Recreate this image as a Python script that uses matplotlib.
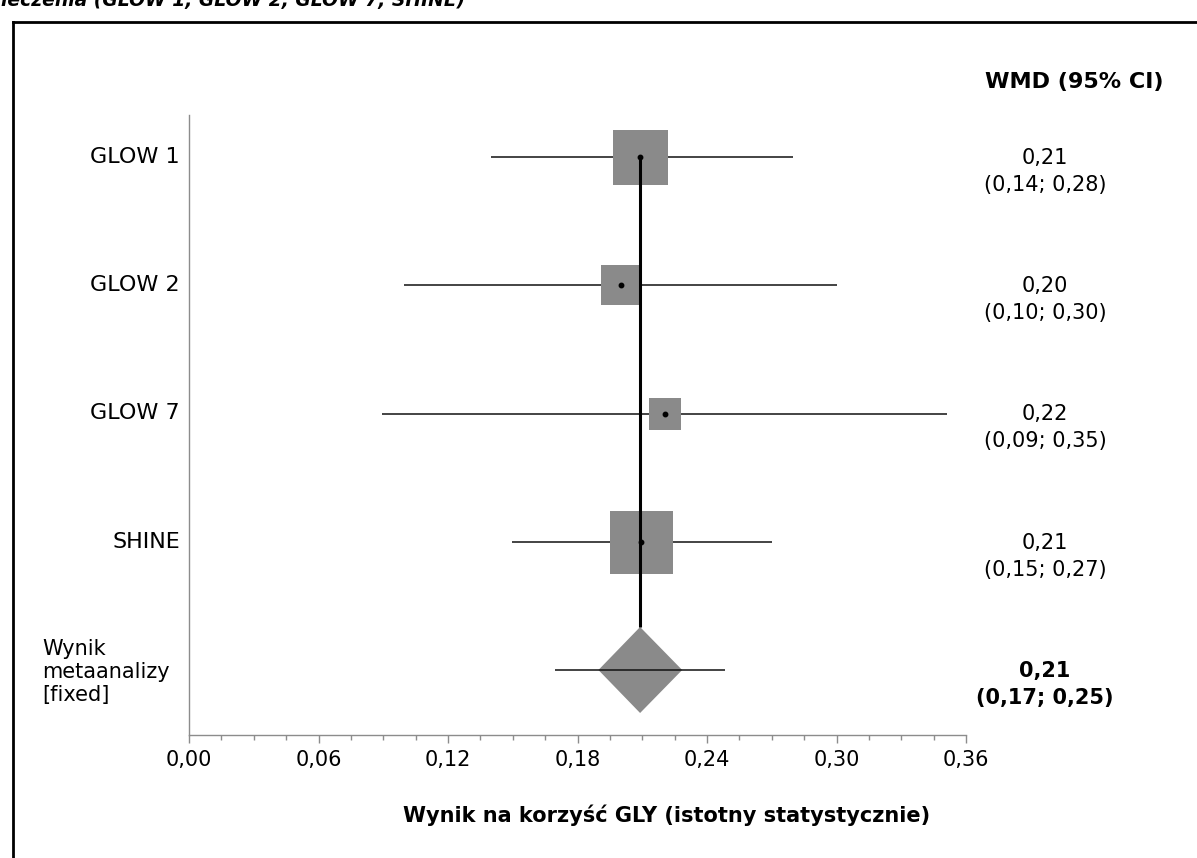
import matplotlib
matplotlib.use("Agg")
import matplotlib.pyplot as plt
from matplotlib.patches import Polygon
from matplotlib.lines import Line2D
from matplotlib.ticker import MultipleLocator, FuncFormatter

# ---- data ----
studies = ["GLOW 1", "GLOW 2", "GLOW 7", "SHINE"]
estimates = [0.209, 0.200, 0.2205, 0.2095]
ci_low = [0.140, 0.0995, 0.0895, 0.1495]
ci_high = [0.2798, 0.3002, 0.351, 0.270]
value_labels = ["0,21", "0,20", "0,22", "0,21"]
ci_labels = ["(0,14; 0,28)", "(0,10; 0,30)", "(0,09; 0,35)", "(0,15; 0,27)"]

meta_label = "Wynik\nmetaanalizy\n[fixed]"
meta_est = 0.209
meta_ci_low = 0.1697
meta_ci_high = 0.2483
meta_diamond_low = 0.1897
meta_diamond_high = 0.2285
meta_value_label = "0,21"
meta_ci_label = "(0,17; 0,25)"

x_ticks = [0.00, 0.06, 0.12, 0.18, 0.24, 0.30, 0.36]
x_label = "Wynik na korzyść GLY (istotny statystycznie)"
col_header = "WMD (95% CI)"
title_text = "leczenia (GLOW 1, GLOW 2, GLOW 7, SHINE)"

# ---- style ----
box_px = [55, 40, 32, 63]
box_color = "#8a8a8a"
FS = 15
W, H = 1197, 858
DPI = 100

fig = plt.figure(figsize=(W / DPI, H / DPI), dpi=DPI)
fig.patch.set_facecolor("white")

ax_left, ax_right, ax_top, ax_bottom = 189, 966, 115, 735
ax = fig.add_axes([ax_left / W, 1 - ax_bottom / H,
                   (ax_right - ax_left) / W, (ax_bottom - ax_top) / H])

row_px = [157, 285, 413, 542, 670]
unit = 128.25
y0 = -(row_px[0] - ax_top) / unit
y1 = (ax_bottom - row_px[0]) / unit
ax.set_ylim(y1, y0)
ax.set_xlim(x_ticks[0], x_ticks[-1])

rows = list(range(len(studies)))
meta_row = len(studies)

# CI lines
ax.hlines(rows, ci_low, ci_high, color="#111111", lw=1.1, zorder=2)
# boxes
for r, e, s in zip(rows, estimates, box_px):
    ax.plot([e], [r], marker="s", ms=s * 72 / DPI, mfc=box_color,
            mec=box_color, mew=0, ls="none", zorder=3)
# points
ax.plot(estimates, rows, "o", color="black", ms=3.2, zorder=5)

# diamond
half_h = 43 / unit
diamond = Polygon([(meta_diamond_low, meta_row), (meta_est, meta_row - half_h),
                   (meta_diamond_high, meta_row), (meta_est, meta_row + half_h)],
                  closed=True, facecolor=box_color, edgecolor="none", zorder=3)
ax.add_patch(diamond)
ax.hlines([meta_row], [meta_ci_low], [meta_ci_high], color="#111111", lw=1.1, zorder=4)

# vertical line at pooled estimate
ax.vlines([meta_est], rows[0], meta_row - half_h, color="black", lw=2.2, zorder=4)

# axes styling
for sp in ["top", "right"]:
    ax.spines[sp].set_visible(False)
for sp in ["left", "bottom"]:
    ax.spines[sp].set_color("#8c8c8c")
    ax.spines[sp].set_linewidth(1.0)
ax.set_yticks([])
ax.xaxis.set_major_locator(MultipleLocator(0.06))
ax.xaxis.set_minor_locator(MultipleLocator(0.015))
ax.xaxis.set_major_formatter(FuncFormatter(lambda v, p: f"{v:.2f}".replace(".", ",")))
ax.tick_params(axis="x", which="major", length=6, width=1, color="#8c8c8c",
               labelsize=FS, pad=5)
ax.tick_params(axis="x", which="minor", length=3.5, width=1, color="#8c8c8c")

# row labels
for r, name in zip(rows, studies):
    fig.text(180 / W, 1 - row_px[r] / H, name, ha="right", va="center", fontsize=16)
fig.text(42 / W, 1 - (row_px[meta_row] + 2) / H, meta_label, ha="left", va="center",
         fontsize=FS, linespacing=1.2)

# value column
xc = 1045 / W
for r in rows:
    fig.text(xc, 1 - (row_px[r] + 1) / H, value_labels[r], ha="center", va="center", fontsize=FS)
    fig.text(xc, 1 - (row_px[r] + 28) / H, ci_labels[r], ha="center", va="center", fontsize=FS)
fig.text(xc, 1 - (row_px[meta_row] + 1) / H, meta_value_label, ha="center", va="center",
         fontsize=FS, fontweight="bold")
fig.text(xc, 1 - (row_px[meta_row] + 28) / H, meta_ci_label, ha="center", va="center",
         fontsize=FS, fontweight="bold")
fig.text(1074 / W, 1 - 82 / H, col_header, ha="center", va="center", fontsize=16,
         fontweight="bold")

# x label
fig.text(667 / W, 1 - 815 / H, x_label, ha="center", va="center", fontsize=FS,
         fontweight="bold")

# cut-off title at top
fig.text(1 / W, 1 - 6 / H, title_text, ha="left", va="baseline", fontsize=13.5,
         fontweight="bold", fontstyle="italic")

# frame
fig.add_artist(Line2D([13 / W, 13 / W], [0, 1 - 22 / H], color="black", lw=2,
                      transform=fig.transFigure))
fig.add_artist(Line2D([13 / W, 1.0], [1 - 22 / H, 1 - 22 / H], color="black", lw=2,
                      transform=fig.transFigure))

fig.savefig("out.png", dpi=DPI)
